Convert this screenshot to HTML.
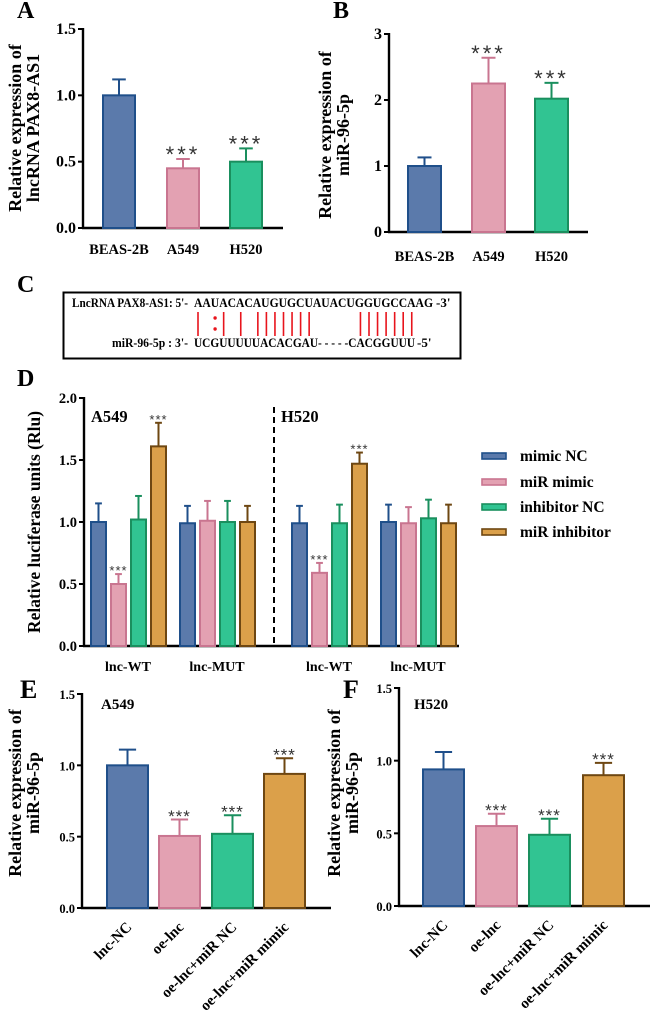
<!DOCTYPE html>
<html><head><meta charset="utf-8"><style>
html,body{margin:0;padding:0;background:#fff}
svg{display:block;font-family:"Liberation Serif",serif;font-weight:bold}
</style></head><body>
<svg id="fig" width="650" height="1015" viewBox="0 0 650 1015" xmlns="http://www.w3.org/2000/svg">
<g id="pC">
<text x="17" y="292" font-size="24">C</text>
<rect x="63.5" y="292.5" width="397" height="66" fill="none" stroke="#000" stroke-width="2"/>
<text x="72" y="307" font-size="13" textLength="116" lengthAdjust="spacingAndGlyphs">LncRNA PAX8-AS1: 5'-</text>
<text x="194" y="307" font-size="13" textLength="239" lengthAdjust="spacingAndGlyphs">AAUACACAUGUGCUAUACUGGUGCCAAG</text>
<text x="436" y="307" font-size="13">-3'</text>
<text x="112" y="347" font-size="13" textLength="76" lengthAdjust="spacingAndGlyphs">miR-96-5p : 3'-</text>
<text x="194" y="347" font-size="13" textLength="221" lengthAdjust="spacingAndGlyphs">UCGUUUUUACACGAU- - - - -CACGGUUU</text>
<text x="417" y="347" font-size="13">-5'</text>
<g id="pairs"></g>
</g>
</svg>
<script>
// ---- Panel C pairing positions (nucleotide indices) ----
const pairIdx=[0,3,5,7,8,9,10,11,12,13,19,20,21,22,23,24,25];
const wobbleIdx=[2];

// ---- Panel A ----
const aCats=["BEAS-2B","A549","H520"];
const aVals=[1.0,0.45,0.5];
const aErr=[0.12,0.07,0.10];
const aSig=[false,true,true];
const aTicks=[0,0.5,1.0,1.5];
const aTickLabels=["0.0","0.5","1.0","1.5"];
// ---- Panel B ----
const bCats=["BEAS-2B","A549","H520"];
const bVals=[1.0,2.25,2.02];
const bErr=[0.13,0.39,0.24];
const bSig=[false,true,true];
const bTicks=[0,1,2,3];
const bTickLabels=["0","1","2","3"];
// ---- Panel D ----
const dGroups=["lnc-WT","lnc-MUT","lnc-WT","lnc-MUT"];
const dSeries=["mimic NC","miR mimic","inhibitor NC","miR inhibitor"];
const dVals=[[1.0,0.5,1.02,1.61],[0.99,1.01,1.0,1.0],[0.99,0.59,0.99,1.47],[1.0,0.99,1.03,0.99]];
const dErr=[[0.15,0.08,0.19,0.19],[0.14,0.16,0.17,0.13],[0.14,0.08,0.15,0.09],[0.14,0.13,0.15,0.15]];
const dSig=[[false,true,false,true],[false,false,false,false],[false,true,false,true],[false,false,false,false]];
const dTicks=[0,0.5,1.0,1.5,2.0];
const dTickLabels=["0.0","0.5","1.0","1.5","2.0"];
// ---- Panel E ----
const eCats=["lnc-NC","oe-lnc","oe-lnc+miR NC","oe-lnc+miR mimic"];
const eVals=[1.0,0.505,0.52,0.94];
const eErr=[0.11,0.115,0.13,0.11];
const eSig=[false,true,true,true];
// ---- Panel F ----
const fCats=["lnc-NC","oe-lnc","oe-lnc+miR NC","oe-lnc+miR mimic"];
const fVals=[0.94,0.55,0.49,0.90];
const fErr=[0.12,0.085,0.11,0.085];
const fSig=[false,true,true,true];
const efTicks=[0,0.5,1.0,1.5];
const efTickLabels=["0.0","0.5","1.0","1.5"];

const COL=[{f:"#5b7aab",s:"#1f4f8a"},{f:"#e3a1b2",s:"#c97590"},{f:"#31c492",s:"#1a8f5e"},{f:"#dba04a",s:"#6e4712"}];
const NS="http://www.w3.org/2000/svg";
const svg=document.getElementById('fig');
function mk(tag,attrs,parent,txt){const e=document.createElementNS(NS,tag);for(const k in attrs)e.setAttribute(k,attrs[k]);if(txt!==undefined)e.textContent=txt;(parent||svg).appendChild(e);return e;}

const pg=document.getElementById('pairs');
const nx=i=>198+i*8.55;
pairIdx.forEach((i)=>{const l=mk('line',{x1:nx(i),x2:nx(i),y1:312,y2:336,stroke:"#e8141c","stroke-width":1.6},pg);

});
wobbleIdx.forEach(i=>{[318,329].forEach(y=>{const c=mk('circle',{cx:nx(i),cy:y,r:1.7,fill:"#e8141c"},pg);

});});

function axes(g,o){
  const ys=v=>o.yb-(v/o.vmax)*(o.yb-o.y0);
  const ya=mk('line',{x1:o.x0,x2:o.x0,y1:o.y0-1,y2:o.yb+1,stroke:"#000","stroke-width":2.4},g);
  
  
  const xa=mk('line',{x1:o.x0-1,x2:o.x1,y1:o.yb,y2:o.yb,stroke:"#000","stroke-width":2.4},g);
  
  
  o.ticks.forEach((t,i)=>{const y=ys(t);
    const tk=mk('line',{x1:o.x0-5,x2:o.x0,y1:y,y2:y,stroke:"#000","stroke-width":2},g);
    
    
    const tl=mk('text',{x:o.x0-7,y:y+5,"text-anchor":"end","font-size":o.tfs||13},g,o.labels[i]);
    
    });
  return ys;
}
function bar(g,x,w,v,err,ys,c,sig,sfs,sgap,ls){
  const top=ys(v),et=ys(v+err);
  const r=mk('rect',{x:x+1,y:top,width:w-2,height:ys(0)-top,fill:c.f,stroke:c.s,"stroke-width":2},g);
  
  
  const cx=x+w/2;
  const e1=mk('line',{x1:cx,x2:cx,y1:top,y2:et,stroke:c.s,"stroke-width":2},g);
  
  
  const e2=mk('line',{x1:cx-w*0.2,x2:cx+w*0.2,y1:et,y2:et,stroke:c.s,"stroke-width":2},g);
  
  
  if(sig){const s=mk('text',{x:cx,y:et+sfs*0.55-(sgap||3),"text-anchor":"middle","font-size":sfs||16,"font-weight":"normal",fill:"#333","font-family":"Liberation Sans, sans-serif","letter-spacing":ls||1},g,"***");
    
    }
}
function ytitle(g,cx,cy,lines,fs){
  const t=mk('text',{transform:`translate(${cx},${cy}) rotate(-90)`,"text-anchor":"middle","font-size":fs},g);
  
  
  lines.forEach((l,i)=>{mk('tspan',{x:0,dy:i===0?(-(lines.length-1)*fs*0.5):fs*1.0},t,l);});
}
function label(g,x,y,txt,fs,name){const t=mk('text',{x:x,y:y,"font-size":fs},g,txt);
  
  }

// ---- Panel A ----
(function(){const g=mk('g',{});


label(g,17,18,"A",24,"panel-label-a");
const ys=axes(g,{x0:83,x1:283,y0:29,yb:228,vmax:1.5,ticks:aTicks,labels:aTickLabels,tfs:16});
const xs=[102,166,229],w=34;
aCats.forEach((c,i)=>{bar(g,xs[i],w,aVals[i],aErr[i],ys,COL[i],aSig[i],22,9,3);
  const t=mk('text',{x:xs[i]+w/2,y:254,"text-anchor":"middle","font-size":14.5},g,c);
  
  });
ytitle(g,30,128,["Relative expression of","lncRNA PAX8-AS1"],18);
})();
// ---- Panel B ----
(function(){const g=mk('g',{});


label(g,333,18,"B",24,"panel-label-b");
const ys=axes(g,{x0:389,x1:588,y0:34,yb:232,vmax:3,ticks:bTicks,labels:bTickLabels,tfs:16});
const xs=[407,471,534],w=35;
bCats.forEach((c,i)=>{bar(g,xs[i],w,bVals[i],bErr[i],ys,COL[i],bSig[i],22,9,3);
  const t=mk('text',{x:xs[i]+w/2,y:261,"text-anchor":"middle","font-size":14.5},g,c);
  
  });
ytitle(g,340,135,["Relative expression of","miR-96-5p"],18);
})();
// ---- Panel D ----
(function(){const g=mk('g',{});


label(g,17,386,"D",24,"panel-label-d");
const ys=axes(g,{x0:84,x1:459,y0:398,yb:646,vmax:2,ticks:dTicks,labels:dTickLabels,tfs:14.5});
const gx=[90,179,291,380],w=17,step=20;
dGroups.forEach((gn,gi)=>{dSeries.forEach((s,si)=>{bar(g,gx[gi]+si*step,w,dVals[gi][si],dErr[gi][si],ys,COL[si],dSig[gi][si],13,6,0);});
  const t=mk('text',{x:gx[gi]+38,y:671,"text-anchor":"middle","font-size":14},g,gn);
  
  });
const dl=mk('line',{x1:274,x2:274,y1:407,y2:644,stroke:"#000","stroke-width":2,"stroke-dasharray":"6,4"},g);


label(g,91,422,"A549",16.5,"cell-line-label-a549");
label(g,281,422,"H520",16.5,"cell-line-label-h520");
ytitle(g,40,522,["Relative luciferase units (Rlu)"],17.5);
const lg=mk('g',{},g);


const ly=[456,482,507,532];
dSeries.forEach((s,i)=>{const r=mk('rect',{x:482,y:ly[i]-3,width:24,height:6,fill:COL[i].f,stroke:COL[i].s,"stroke-width":1.6},lg);
  
  
  const t=mk('text',{x:520,y:ly[i]+5,"font-size":15.5},lg,s);
  
  });
})();
// ---- Panels E & F ----
function efPanel(name,letter,lx,cellLbl,clx,x0,x1,y0,yb,xs,cats,vals,errs,sigs,tcx){
const g=mk('g',{});


label(g,lx,698,letter,26,"panel-label-"+letter.toLowerCase());
const ys=axes(g,{x0:x0,x1:x1,y0:y0,yb:yb,vmax:1.5,ticks:efTicks,labels:efTickLabels,tfs:12.5});
const w=43;
cats.forEach((c,i)=>{bar(g,xs[i],w,vals[i],errs[i],ys,COL[i],sigs[i],17,7,1);
  const cx=xs[i]+w/2+5;
  const t=mk('text',{transform:`translate(${cx},${yb+20}) rotate(-45)`,"text-anchor":"end","font-size":15},g,c);
  
  });
label(g,clx,709,cellLbl,15,"cell-line-label");
ytitle(g,tcx,793,["Relative expression of","miR-96-5p"],18);
}
efPanel('panel-e-chart',"E",20,"A549",101,82,331,694,908,[106,158,211,263],eCats,eVals,eErr,eSig,30);
efPanel('panel-f-chart',"F",343,"H520",414,399,650,688,906,[422,475,528,582],fCats,fVals,fErr,fSig,349);
</script>
</body></html>
